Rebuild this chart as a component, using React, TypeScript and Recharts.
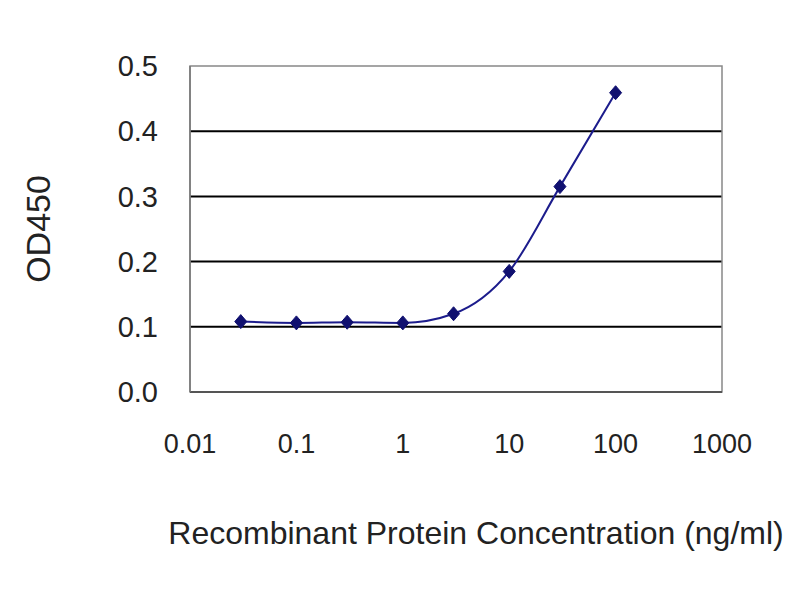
import {
  LineChart,
  Line,
  XAxis,
  YAxis,
  CartesianGrid,
  ReferenceArea,
} from 'recharts';

const concentrations = [0.03, 0.1, 0.3, 1, 3, 10, 30, 100];
const od450 = [0.108, 0.106, 0.107, 0.106, 0.12, 0.185, 0.315, 0.459];
const xTicks = [0.01, 0.1, 1, 10, 100, 1000];
const yTicks = [0, 0.1, 0.2, 0.3, 0.4, 0.5];

const data = concentrations.map((c, i) => ({ conc: c, od: od450[i] }));

const FONT = '"Liberation Sans", Arial, sans-serif';

const Diamond = (props: any) => {
  const { cx, cy, index } = props;
  if (cx == null || cy == null) return null;
  const r = 7;
  return (
    <path
      key={index}
      d={`M${cx},${cy - r} L${cx + r - 1},${cy} L${cx},${cy + r} L${cx - r + 1},${cy} Z`}
      fill="#101070"
      stroke="#101070"
    />
  );
};

export default function App() {
  return (
    <div style={{ width: 800, height: 600, fontFamily: FONT }}>
      <LineChart
        width={792}
        height={592}
        data={data}
        margin={{ top: 58, right: 78, bottom: 0, left: 0 }}
      >
        <CartesianGrid
          horizontal
          vertical={false}
          stroke="#000"
          strokeWidth={2}
          horizontalValues={[0.1, 0.2, 0.3, 0.4]}
        />
        <ReferenceArea
          x1={0.01}
          x2={1000}
          y1={0}
          y2={0.5}
          fill="none"
          stroke="#888"
          strokeWidth={1.5}
          ifOverflow="visible"
        />
        <XAxis
          dataKey="conc"
          type="number"
          scale="log"
          domain={[0.01, 1000]}
          ticks={xTicks}
          tickFormatter={(v: number) => String(v)}
          allowDataOverflow
          height={208}
          axisLine={{ stroke: '#555', strokeWidth: 2 }}
          tickLine={false}
          tickSize={0}
          tickMargin={42}
          tick={{ fill: '#222', fontSize: 27, fontFamily: FONT }}
          label={{
            value: 'Recombinant Protein Concentration (ng/ml)',
            position: 'insideTop',
            offset: 129,
            dx: 20,
            fill: '#222',
            fontSize: 32,
            fontFamily: FONT,
          }}
        />
        <YAxis
          dataKey="od"
          type="number"
          domain={[0, 0.5]}
          ticks={yTicks}
          tickFormatter={(v: number) => v.toFixed(1)}
          width={182}
          axisLine={{ stroke: '#777', strokeWidth: 1.5 }}
          tickLine={false}
          tickSize={0}
          tickMargin={32}
          tick={{ fill: '#222', fontSize: 29, fontFamily: FONT }}
          label={{
            value: 'OD450',
            angle: -90,
            position: 'insideLeft',
            offset: 30,
            fill: '#222',
            fontSize: 34,
            fontFamily: FONT,
            style: { textAnchor: 'middle' },
          }}
        />
        <Line
          type="monotone"
          dataKey="od"
          stroke="#1c1c8c"
          strokeWidth={2}
          dot={<Diamond />}
          activeDot={false}
          isAnimationActive={false}
        />
      </LineChart>
    </div>
  );
}
